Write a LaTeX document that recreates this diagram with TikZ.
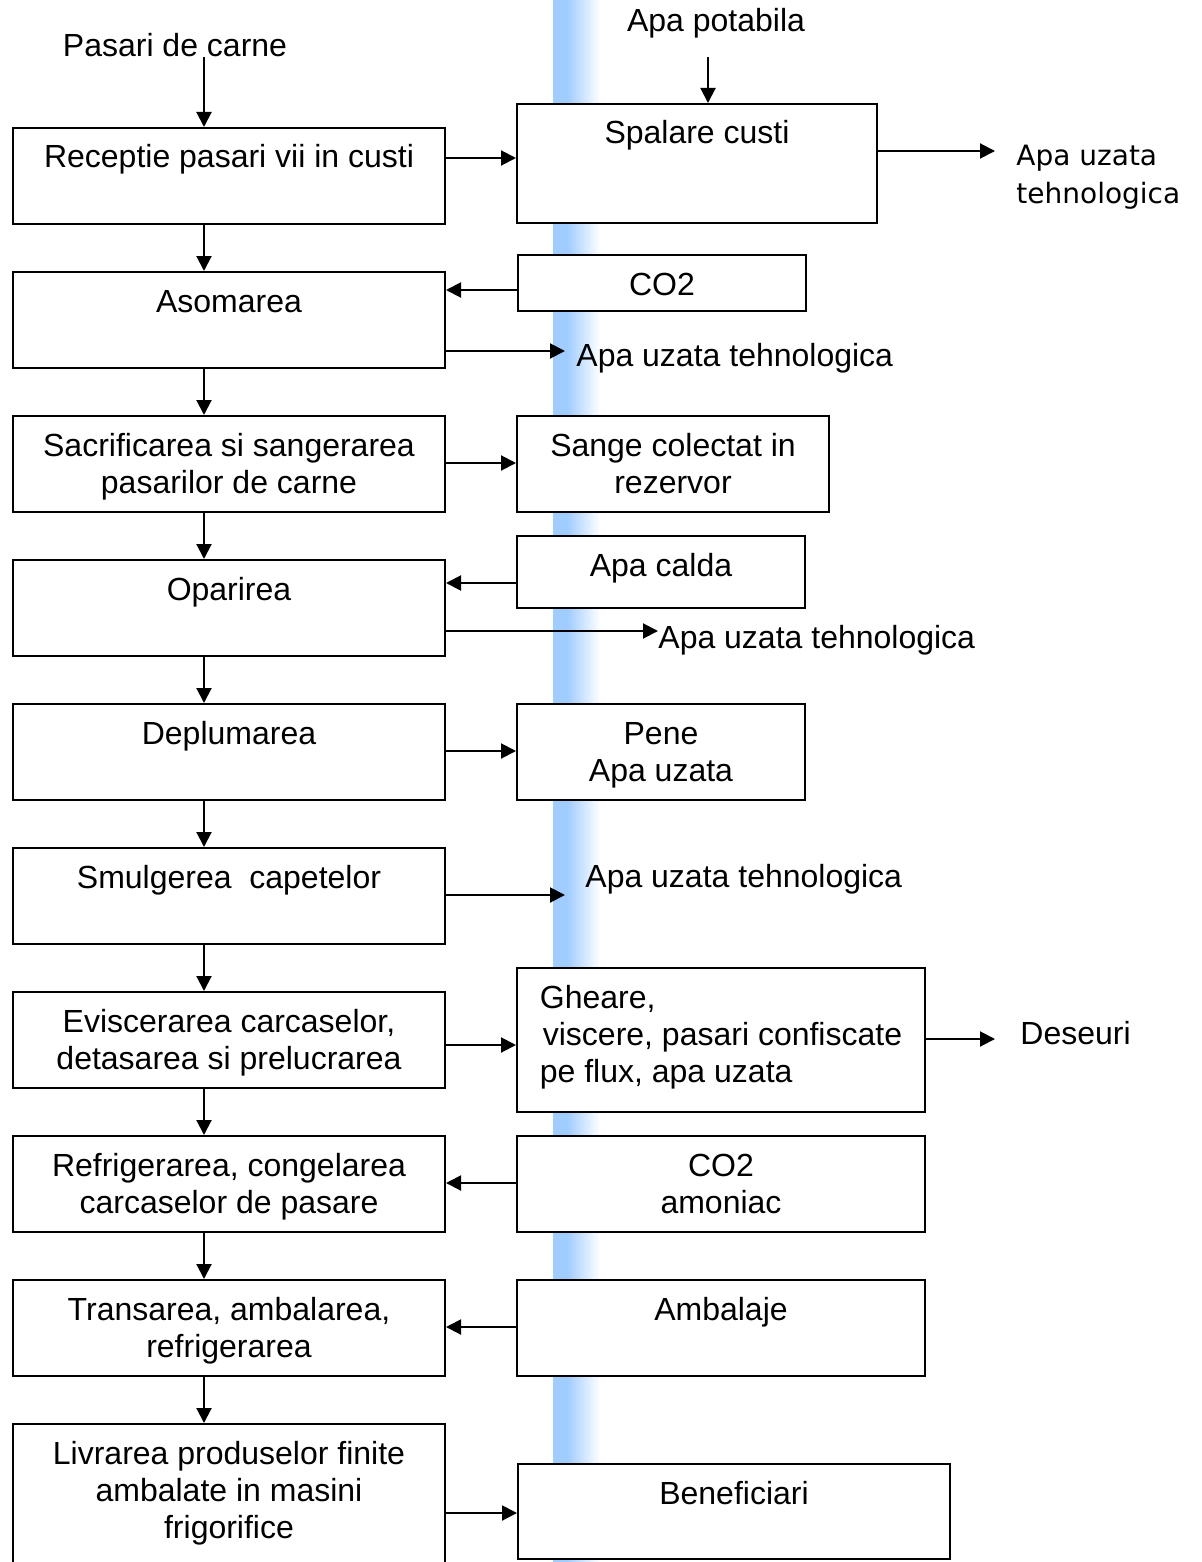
\documentclass[tikz,border=0pt]{standalone}
\usepackage{fontspec}
\setmainfont{Liberation Sans}
\newfontfamily\verdfont{DejaVu Sans}
\usetikzlibrary{arrows.meta}
\definecolor{barblue}{RGB}{160, 204, 255}

\begin{document}
\begin{tikzpicture}[x=0.5pt, y=-0.5pt,
	procbox/.style={draw, fill=white, line width=1pt, anchor=north west,
		align=center, inner xsep=4pt, inner ysep=0pt, text height=20pt,
		font=\fontsize{16}{18.5}\selectfont},
	twoline/.style={text height=38.5pt, text depth=9.5pt},
	threeline/.style={text height=57pt},
	leftbox/.style={procbox, minimum width=216pt, text depth=28pt},
	sidetext/.style={anchor=base west, inner sep=0pt,
		font=\fontsize{16}{18.5}\selectfont},
	arr/.style={-{Triangle[length=7.5pt, width=7.5pt]}, line width=1pt}
	]
	\clip (0,0) rectangle (1201,1562);
	% blue band
	\fill[barblue] (553,0) rectangle (567,1562);
	\shade[left color=barblue, right color=white] (567,0) rectangle (600,1562);
	
	% main line
	\node[leftbox] (recep) at (12,127) {Receptie pasari vii in custi};
	\node[leftbox] (asom)  at (12,271) {Asomarea};
	\node[leftbox, twoline] (sacr) at (12,415) {Sacrificarea si sangerarea\\pasarilor de carne};
	\node[leftbox] (opar)  at (12,559) {Oparirea};
	\node[leftbox] (depl)  at (12,703) {Deplumarea};
	\node[leftbox] (smulg) at (12,847) {Smulgerea\ \ capetelor};
	\node[leftbox, twoline] (evis) at (12,991) {Eviscerarea carcaselor,\\detasarea si prelucrarea};
	\node[leftbox, twoline] (refr) at (12,1135) {Refrigerarea, congelarea\\carcaselor de pasare};
	\node[leftbox, twoline] (trans) at (12,1279) {Transarea, ambalarea,\\refrigerarea};
	\node[leftbox, threeline, text depth=16pt] (livr) at (12,1423)
	{Livrarea produselor finite\\ambalate in masini\\frigorifice};
	
	% inputs / outputs
	\node[procbox, minimum width=180pt, text depth=39.5pt] (spal) at (516,103) {Spalare custi};
	\node[procbox, minimum width=144pt, text depth=8pt] (co2a) at (517,254) {CO2};
	\node[procbox, twoline, minimum width=156pt] (sange) at (516,415) {Sange colectat in\\rezervor};
	\node[procbox, minimum width=144pt, text depth=16pt] (calda) at (516,535) {Apa calda};
	\node[procbox, twoline, minimum width=144pt] (pene) at (516,703) {Pene\\Apa uzata};
	\node[procbox, threeline, minimum width=204pt, text depth=15pt, align=left] (ghear) at (516,967)
	{Gheare,\\\hspace{1.5pt}viscere, pasari confiscate\\pe flux, apa uzata};
	\node[procbox, twoline, minimum width=204pt] (amon) at (516,1135) {CO2\\amoniac};
	\node[procbox, minimum width=204pt, text depth=28pt] (ambal) at (516,1279) {Ambalaje};
	\node[procbox, minimum width=216pt, text depth=27.5pt] (benef) at (517,1463) {Beneficiari};
	
	\node[sidetext, anchor=base] (pasari) at (175,57) {Pasari de carne};
	\node[sidetext, anchor=base] (potab) at (716,32) {Apa potabila};
	\node[sidetext, align=left, font=\verdfont\fontsize{14}{19}\selectfont] (uz1) at (1016,204)
	{Apa uzata\\tehnologica};
	\node[sidetext] (uz2) at (576,366) {Apa uzata tehnologica};
	\node[sidetext] (uz3) at (658,648) {Apa uzata tehnologica};
	\node[sidetext] (uz4) at (585,887) {Apa uzata tehnologica};
	\node[sidetext] (deseu) at (1020,1044) {Deseuri};
	
	% arrows
	\coordinate (pin) at (204,57);
	\coordinate (pot) at (708,57);
	\draw[arr] (pin) -- (pin |- recep.north);
	\draw[arr] (pot) -- (pot |- spal.north);
	\foreach \a/\b in {recep/asom, asom/sacr, sacr/opar, opar/depl, depl/smulg,
		smulg/evis, evis/refr, refr/trans, trans/livr}
	\draw[arr] (\a.south -| pin) -- (\b.north -| pin);
	\foreach \a/\b/\y in {recep/spal/158, sacr/sange/463, depl/pene/751,
		evis/ghear/1045, livr/benef/1513}
	\draw[arr] (\a.east |- 0,\y) -- (\b.west |- 0,\y);
	\foreach \a/\b/\y in {co2a/asom/290, calda/opar/583, amon/refr/1183, ambal/trans/1327}
	\draw[arr] (\a.west |- 0,\y) -- (\b.east |- 0,\y);
	\draw[arr, shorten >=10.5pt] (spal.east |- 0,151) -- (uz1.west |- 0,151);
	\draw[arr, shorten >=5.5pt] (asom.east |- 0,351) -- (uz2.west |- 0,351);
	\draw[arr] (opar.east |- 0,631) -- (uz3.west |- 0,631);
	\draw[arr, shorten >=10pt] (smulg.east |- 0,895) -- (uz4.west |- 0,895);
	\draw[arr, shorten >=12.5pt] (ghear.east |- 0,1039) -- (deseu.west |- 0,1039);
\end{tikzpicture}
\end{document}
